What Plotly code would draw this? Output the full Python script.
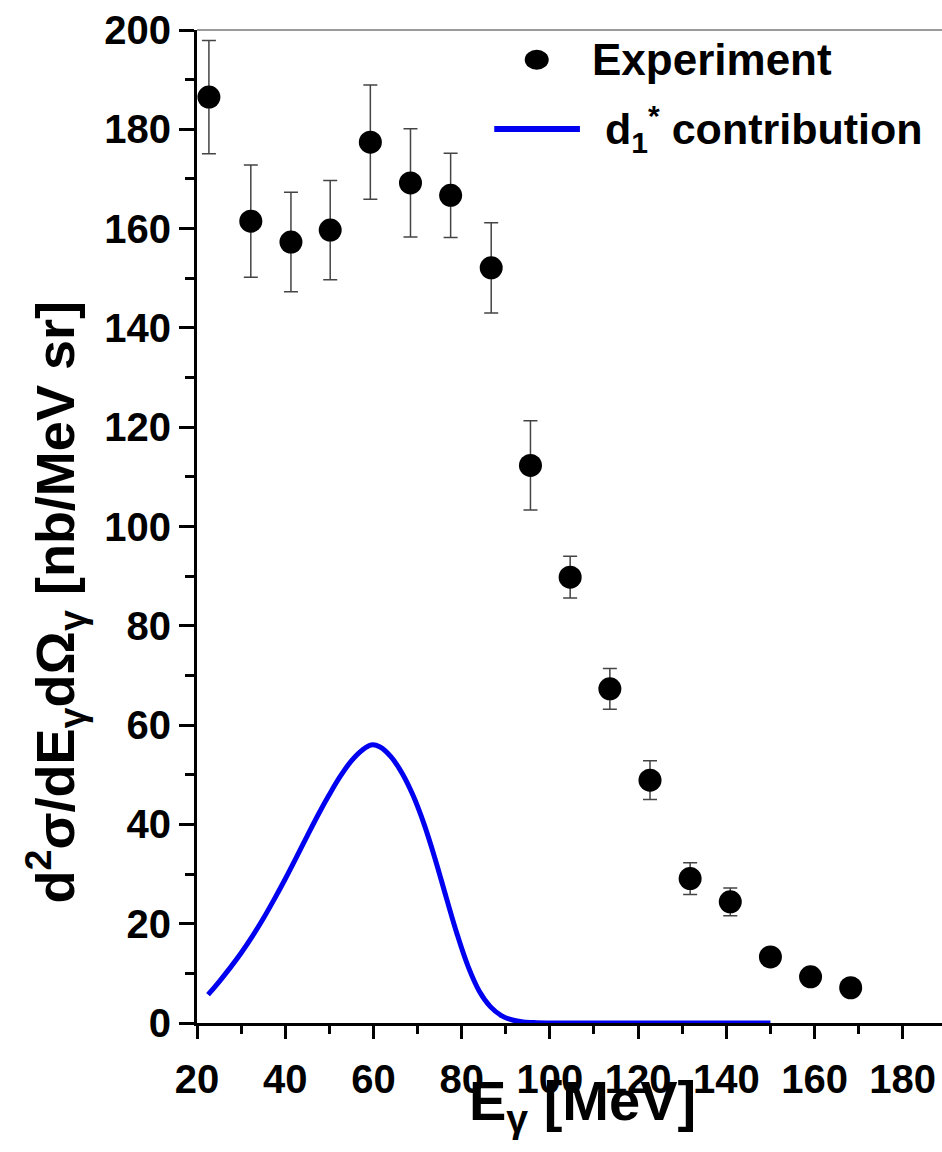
import plotly.graph_objects as go

# Experimental data
energy = [22.7, 32.2, 41.3, 50.2, 59.3, 68.4, 77.5, 86.7, 95.6, 104.6, 113.6, 122.7, 131.8, 140.9, 150.0, 159.1, 168.2]
cross_section = [186.5, 161.5, 157.3, 159.7, 177.4, 169.2, 166.7, 152.1, 112.3, 89.8, 67.3, 48.9, 29.1, 24.4, 13.3, 9.3, 7.1]
error = [11.4, 11.3, 10.0, 10.0, 11.5, 10.9, 8.5, 9.1, 9.0, 4.2, 4.1, 3.9, 3.2, 2.8, 1.7, 1.0, 1.0]

# d1* contribution curve
curve_energy = [22.5, 25, 27.5, 30, 32.5, 35, 37.5, 40, 42.5, 45, 47.5, 50, 52.5, 55, 57.5, 59.5,
                61.5, 64, 66.5, 69, 71.5, 74, 76.5, 79, 81.5, 84, 86.5, 89, 91.5, 94, 97, 100,
                110, 120, 130, 140, 150]
curve_value = [5.7, 8.3, 11.1, 14.1, 17.4, 21.0, 24.9, 29.0, 33.3, 37.7, 42.0, 46.0, 49.7, 52.8, 55.0, 56.0,
               55.6, 53.6, 50.3, 45.8, 40.0, 33.0, 25.3, 17.8, 11.3, 6.4, 3.3, 1.5, 0.6, 0.2, 0.06, 0.02,
               0, 0, 0, 0, 0]

x_ticks = [20, 40, 60, 80, 100, 120, 140, 160, 180]
y_ticks = [0, 20, 40, 60, 80, 100, 120, 140, 160, 180, 200]

FONT = "Liberation Sans, Arial, sans-serif"

fig = go.Figure()

fig.add_trace(go.Scatter(
    x=curve_energy, y=curve_value, mode="lines",
    line=dict(color="#0000F0", width=5, shape="spline", smoothing=1.0),
    name="d1* contribution", showlegend=False,
))

fig.add_trace(go.Scatter(
    x=energy, y=cross_section, mode="markers",
    marker=dict(color="black", size=23),
    error_y=dict(type="data", array=error, visible=True, color="#444444", thickness=1.5, width=7),
    name="Experiment", showlegend=False,
))

axis_common = dict(
    showline=True, linecolor="black", linewidth=3,
    ticks="outside", tickcolor="black", tickwidth=3,
    showgrid=False, zeroline=False,
    tickfont=dict(family=FONT, size=40, color="black", weight="bold"),
)

fig.update_xaxes(
    range=[20, 188.9], tickvals=x_ticks, ticklen=13,
    minor=dict(ticks="outside", dtick=10, tick0=0, ticklen=8, tickwidth=3, tickcolor="black"),
    ticklabelstandoff=6,
    **axis_common,
)
fig.update_yaxes(
    range=[0, 200], tickvals=y_ticks, ticklen=15,
    minor=dict(ticks="outside", dtick=10, tick0=0, ticklen=9, tickwidth=3, tickcolor="black"),
    ticklabelstandoff=0,
    **axis_common,
)

# top frame line (grey)
fig.add_shape(type="line", xref="paper", yref="paper", x0=0, x1=1, y0=1, y1=1,
              line=dict(color="#9a9a9a", width=2))

# custom legend
fig.add_shape(type="circle", xref="paper", yref="paper",
              xsizemode="pixel", ysizemode="pixel",
              xanchor=0.456, yanchor=0.970, x0=-12, x1=12, y0=-10, y1=10,
              fillcolor="black", line=dict(color="black", width=0))
fig.add_shape(type="line", xref="paper", yref="paper", x0=0.399, x1=0.514, y0=0.9003, y1=0.9003,
              line=dict(color="#0000F0", width=6))
fig.add_annotation(xref="paper", yref="paper", x=0.5275, y=0.970, xanchor="left", yanchor="middle",
                   text="Experiment", showarrow=False,
                   font=dict(family=FONT, size=44, color="black", weight="bold"))
fig.add_annotation(xref="paper", yref="paper", x=0.545, y=0.9003, xanchor="left", yanchor="middle",
                   text="d<sub>1</sub><sup>*</sup> contribution", showarrow=False,
                   font=dict(family=FONT, size=43, color="black", weight="bold"))

# axis titles
fig.add_annotation(xref="paper", yref="paper", x=0.517, y=-0.044, xanchor="center", yanchor="top",
                   text="E<sub>γ</sub> [MeV]", showarrow=False,
                   font=dict(family=FONT, size=56, color="black", weight="bold"))
fig.add_annotation(xref="paper", yref="paper", x=-0.19, y=0.424, xanchor="center", yanchor="middle",
                   textangle=-90,
                   text="d<sup>2</sup>σ/dE<sub>γ</sub>dΩ<sub>γ</sub> [nb/MeV sr]", showarrow=False,
                   font=dict(family=FONT, size=54, color="black", weight="bold"))

fig.update_layout(
    width=942, height=1152,
    margin=dict(l=197, r=0, t=30, b=129),
    paper_bgcolor="white", plot_bgcolor="white",
    showlegend=False,
)

fig.write_html("out.html")
